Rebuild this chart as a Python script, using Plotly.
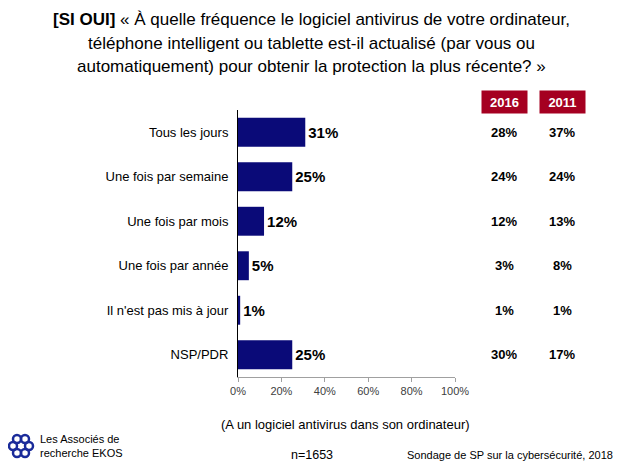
import math
import plotly.graph_objects as go

categories = ["Tous les jours", "Une fois par semaine", "Une fois par mois",
              "Une fois par année", "Il n'est pas mis à jour", "NSP/PDR"]
values_2018 = [31, 25, 12, 5, 1, 25]
values_2016 = [28, 24, 12, 3, 1, 30]
values_2011 = [37, 24, 13, 8, 1, 17]
x_ticks = [0, 20, 40, 60, 80, 100]
x_tick_labels = ["0%", "20%", "40%", "60%", "80%", "100%"]

FONT = "Liberation Sans, Arial, sans-serif"
NAVY = "#0A0A78"
RED = "#A50021"

# The page body has an 8px margin, so the figure is drawn at (8, 8).
OFF = 8
W, H = 624 - OFF, 468 - OFF
PL, PR, PT, PB = 238, 455, 110, 377   # plot area in page pixels
pw, ph = PR - PL, PB - PT

def px(x):
    return (x - PL) / pw

def py(y):
    return (PB - y) / ph

fig = go.Figure()
fig.add_trace(go.Bar(
    y=categories, x=values_2018, orientation="h",
    marker=dict(color=NAVY, line=dict(width=0)),
    width=0.65,
    text=[f"<b>{v}%</b>" for v in values_2018],
    textposition="outside", cliponaxis=False,
    textfont=dict(family=FONT, size=15, color="#000000"),
    hoverinfo="skip",
))

annotations = []
for xpos, year, vals in [(504, "2016", values_2016), (562, "2011", values_2011)]:
    annotations.append(dict(
        x=px(xpos), y=py(102), xref="paper", yref="paper", text=f"<b>{year}</b>",
        showarrow=False, font=dict(family=FONT, size=13, color="white"),
        bgcolor=RED, width=43, height=20, xanchor="center", yanchor="middle",
    ))
    for cat, v in zip(categories, vals):
        annotations.append(dict(
            x=px(xpos), y=cat, xref="paper", yref="y", text=f"<b>{v}%</b>",
            showarrow=False, font=dict(family=FONT, size=13, color="#000000"),
            xanchor="center", yanchor="middle",
        ))

title_lines = [
    "<b>[SI OUI]</b> « À quelle fréquence le logiciel antivirus de votre ordinateur,",
    "téléphone intelligent ou tablette est-il actualisé (par vous ou",
    "automatiquement) pour obtenir la protection la plus récente? »",
]
for line, yc in zip(title_lines, [19, 43, 66]):
    annotations.append(dict(
        x=px(311), y=py(yc), xref="paper", yref="paper", text=line,
        showarrow=False, xanchor="center", yanchor="middle",
        font=dict(family=FONT, size=17, color="#000000"),
    ))

annotations.append(dict(
    x=px(345), y=py(424), xref="paper", yref="paper",
    text="(A un logiciel antivirus dans son ordinateur)",
    showarrow=False, xanchor="center", yanchor="middle",
    font=dict(family=FONT, size=13, color="#000000"),
))
annotations.append(dict(
    x=px(312), y=py(455), xref="paper", yref="paper", text="n=1653",
    showarrow=False, xanchor="center", yanchor="middle",
    font=dict(family=FONT, size=12.5, color="#000000"),
))
annotations.append(dict(
    x=px(615), y=py(455), xref="paper", yref="paper",
    text="Sondage de SP sur la cybersécurité, 2018",
    showarrow=False, xanchor="right", yanchor="middle",
    font=dict(family=FONT, size=11, color="#000000"),
))
annotations.append(dict(
    x=px(38), y=py(446), xref="paper", yref="paper",
    text="Les Associés de<br>recherche EKOS", align="left",
    showarrow=False, xanchor="left", yanchor="middle",
    font=dict(family=FONT, size=11, color="#000000"),
))

shapes = []
cx, cy, rr = 21, 446, 8
for k in range(6):
    ang = 2 * math.pi * k / 6
    x0 = cx + rr * math.cos(ang)
    y0 = cy + rr * math.sin(ang)
    shapes.append(dict(
        type="circle", xref="paper", yref="paper",
        x0=px(x0 - 4), x1=px(x0 + 4), y0=py(y0 + 4), y1=py(y0 - 4),
        line=dict(color="#1A2B9A", width=2.5), fillcolor="rgba(0,0,0,0)",
    ))

fig.update_layout(
    width=W, height=H,
    margin=dict(l=PL - OFF, r=624 - PR, t=PT - OFF, b=468 - PB, pad=0),
    paper_bgcolor="white", plot_bgcolor="white",
    showlegend=False,
    annotations=annotations,
    shapes=shapes,
    xaxis=dict(
        range=[0, 100], tickvals=x_ticks, ticktext=x_tick_labels,
        showgrid=False, zeroline=False,
        showline=True, linecolor="#A0A0A0", linewidth=1,
        ticks="outside", ticklen=4, tickcolor="#A0A0A0",
        tickfont=dict(family=FONT, size=11, color="#404040"),
        fixedrange=True,
    ),
    yaxis=dict(
        categoryorder="array", categoryarray=categories,
        autorange="reversed",
        showgrid=False, zeroline=False,
        showline=True, linecolor="#000000", linewidth=1,
        ticks="", ticklabelstandoff=6,
        tickfont=dict(family=FONT, size=13, color="#000000"),
        fixedrange=True,
    ),
    bargap=0.35,
)

fig.write_html("out.html")
